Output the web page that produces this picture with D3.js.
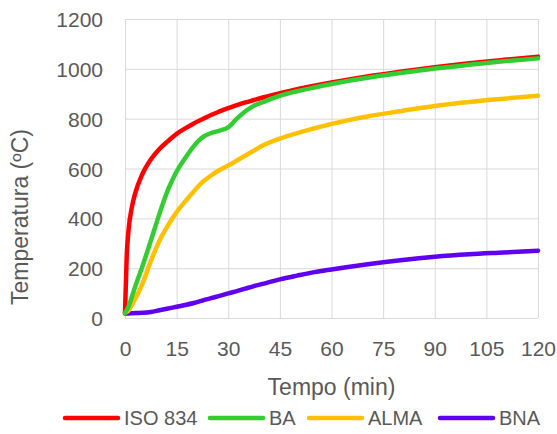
<!DOCTYPE html>
<html>
<head>
<meta charset="utf-8">
<script src="https://cdn.jsdelivr.net/npm/d3@7"></script>
<style>
  html, body { margin: 0; padding: 0; background: #ffffff; }
  svg { display: block; font-family: "Liberation Sans", Arial, sans-serif; }
</style>
</head>
<body>
<svg id="chart" width="557" height="434"></svg>
<script>
// ---- Data ----
const minutes = [0, 0.5, 1, 2, 3, 5, 7.5, 10, 12.5, 15, 17.5, 20, 22.5, 25, 27.5, 30, 32.5, 35, 37.5, 40, 45, 50, 55, 60, 70, 80, 90, 100, 110, 120];
const iso834 = [20, 250, 349, 445, 502, 576, 636, 678, 710, 739, 761, 781, 798, 815, 829, 842, 854, 865, 875, 885, 902, 918, 932, 945, 968, 988, 1006, 1022, 1036, 1049];
const ba     = [20, 32, 45, 85, 128, 205, 310, 418, 515, 588, 642, 690, 725, 742, 752, 765, 800, 830, 852, 866, 892, 910, 925, 939, 963, 983, 1001, 1016, 1030, 1042];
const alma   = [20, 24, 30, 52, 78, 135, 228, 310, 372, 425, 468, 508, 545, 572, 594, 612, 632, 652, 672, 692, 720, 742, 761, 779, 808, 830, 851, 867, 880, 892];
const bna    = [18, 18, 18, 19, 20, 21, 24, 31, 38, 45, 52, 60, 70, 80, 89, 99, 108, 118, 128, 137, 155, 170, 184, 195, 215, 232, 246, 256, 263, 270];

const seriesNames = ["ISO 834", "BA", "ALMA", "BNA"];
const seriesValues = [iso834, ba, alma, bna];
const seriesColors = ["#FF0000", "#33CC33", "#FFC000", "#5F00F0"];

const xTicks = [0, 15, 30, 45, 60, 75, 90, 105, 120];
const yTicks = [0, 200, 400, 600, 800, 1000, 1200];
const xTitle = "Tempo (min)";
const yTitle = "Temperatura (ºC)";

// ---- Layout ----
const svg = d3.select("#chart");
const x = d3.scaleLinear().domain([0, 120]).range([125, 538]);
const y = d3.scaleLinear().domain([0, 1200]).range([318, 19]);
const textColor = "#595959";
const gridColor = "#D9D9D9";

// Y gridlines + labels
const yAxis = svg.append("g")
  .attr("transform", `translate(${x(0)},0)`)
  .call(d3.axisLeft(y).tickValues(yTicks).tickFormat(d3.format("d"))
    .tickSize(-(x(120) - x(0))).tickPadding(22));
yAxis.select(".domain").remove();
yAxis.selectAll(".tick line").attr("stroke", gridColor).attr("stroke-width", 1);
yAxis.selectAll(".tick text").attr("fill", textColor).attr("font-size", 21)
  .attr("font-family", "Liberation Sans, Arial, sans-serif").attr("dy", "0.36em");

// X gridlines + labels
const xAxis = svg.append("g")
  .attr("transform", `translate(0,${y(0)})`)
  .call(d3.axisBottom(x).tickValues(xTicks).tickFormat(d3.format("d"))
    .tickSize(-(y(0) - y(1200))).tickPadding(23));
xAxis.select(".domain").remove();
xAxis.selectAll(".tick line").attr("stroke", gridColor).attr("stroke-width", 1);
xAxis.selectAll(".tick text").attr("fill", textColor).attr("font-size", 21)
  .attr("font-family", "Liberation Sans, Arial, sans-serif");

// Axis titles
svg.append("text")
  .attr("x", (x(0) + x(120)) / 2).attr("y", 395)
  .attr("text-anchor", "middle").attr("fill", textColor).attr("font-size", 23)
  .text(xTitle);
svg.append("text")
  .attr("transform", "translate(28,217) rotate(-90)")
  .attr("text-anchor", "middle").attr("fill", textColor).attr("font-size", 23)
  .text(yTitle);

// Lines
const line = d3.line()
  .x((d, i) => x(minutes[i]))
  .y(d => y(d))
  .curve(d3.curveMonotoneX);

const order = [3, 2, 0, 1];
order.forEach(k => {
  svg.append("path")
    .datum(seriesValues[k])
    .attr("fill", "none")
    .attr("stroke", seriesColors[k])
    .attr("stroke-width", 4.5)
    .attr("stroke-linejoin", "round")
    .attr("stroke-linecap", "round")
    .attr("d", line);
});

// Legend
const legendX = [65, 210, 309, 440];
const legendY = 418;
seriesNames.forEach((name, k) => {
  const g = svg.append("g");
  g.append("line")
    .attr("x1", legendX[k]).attr("x2", legendX[k] + 53)
    .attr("y1", legendY).attr("y2", legendY)
    .attr("stroke", seriesColors[k]).attr("stroke-width", 4.5)
    .attr("stroke-linecap", "round");
  g.append("text")
    .attr("x", legendX[k] + 59).attr("y", legendY + 7)
    .attr("fill", textColor).attr("font-size", 20)
    .text(name);
});
</script>
</body>
</html>
